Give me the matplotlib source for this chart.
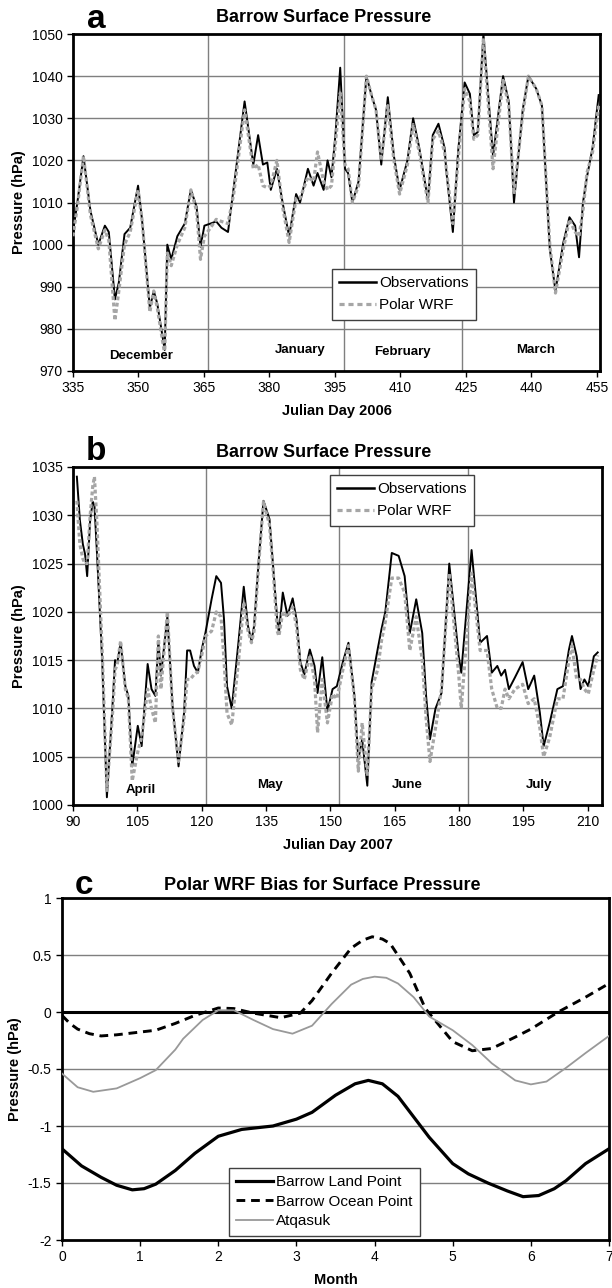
import numpy as np
import matplotlib
matplotlib.use("Agg")
import matplotlib.pyplot as plt
from matplotlib.lines import Line2D

plt.rcParams['font.family'] = ['Liberation Sans', 'DejaVu Sans']

# ---- panel a: Barrow surface pressure, Dec 2005 - Mar 2006
days_a = [335, 336, 337.4, 339, 340.8, 342.3, 343.2, 344.6, 345.5, 346.8, 348.1, 349.9, 350.8,
          352.6, 353.5, 354.3, 356, 356.6, 357.5, 358.9, 360.6, 362, 363.3, 364.2, 365.1, 366.5,
          367.8, 369, 370.5, 371.8, 374.3, 376.3, 377.4, 378.5, 379.5, 380.3, 381.7, 383, 384.5,
          386.1, 387, 388.8, 390.1, 391, 392.4, 393.3, 394.2, 395.1, 396.2, 397.3, 398, 399, 400.4,
          402.2, 403.5, 404.4, 405.6, 407.1, 408.5, 409.8, 411.6, 412.9, 414.3, 416.3, 417.4, 418.7,
          420.1, 420.5, 422, 423.2, 424.7, 425.9, 426.8, 427.7, 429, 431.2, 433.5, 434.8, 436, 438,
          439.3, 441.1, 442.4, 444.2, 445.5, 447.3, 448.7, 450, 450.9, 451.8, 452.7, 454, 455.4]
obs_a = [1003, 1010, 1021, 1008, 1000, 1004.5, 1003, 987, 991, 1002.5, 1004, 1014, 1006,
         985, 989, 986, 975, 1000, 996.5, 1002, 1005, 1013, 1009, 999.5, 1004.5, 1005,
         1005.5, 1004, 1003, 1013.5, 1034, 1019, 1026, 1019, 1019.5, 1013, 1018, 1010, 1002,
         1012, 1010, 1018, 1014, 1017, 1013, 1020, 1016, 1026, 1042, 1018, 1017, 1010, 1015,
         1040, 1035, 1032, 1019, 1035, 1021, 1013, 1020, 1030, 1023, 1010.5, 1026, 1028.7,
         1023, 1017.5, 1003, 1022, 1038.5, 1035.8, 1026, 1026.7, 1050, 1021, 1040, 1034, 1010, 1032,
         1040, 1037, 1033, 999, 989, 1000.5, 1006.5, 1004.5, 997, 1010, 1016, 1023, 1035.5]
wrf_a = [1002, 1009, 1021, 1007, 999, 1003.5, 1001, 982, 989, 1000, 1003, 1013, 1006,
         984, 989, 985, 974, 998, 995, 1000, 1004, 1013, 1008, 996.5, 1002, 1004,
         1006, 1005.5, 1005, 1012, 1032, 1018, 1019, 1014, 1013.5, 1014, 1020, 1009, 1000.5,
         1011, 1011, 1016, 1015, 1022, 1015, 1013, 1014, 1024, 1036, 1019, 1018, 1010, 1014,
         1040, 1035, 1032, 1020, 1033, 1020, 1012, 1019, 1028.5, 1022, 1010, 1025, 1027,
         1022, 1018, 1005, 1020, 1037, 1034, 1025, 1026, 1049, 1018, 1039, 1033, 1012, 1031,
         1040, 1037, 1033, 1000, 988.5, 999, 1006, 1003, 1002, 1008, 1017, 1022, 1033]
months_a = ['December', 'January', 'February', 'March']
month_pos_a = [350.5, 387, 410.5, 441]
month_lines_a = [366, 397, 424]

# ---- panel b: Barrow surface pressure, Apr - Jul 2007
days_b = [90.9, 91.6, 92.3, 92.8, 93.3, 94, 94.6, 95, 95.6, 96.8, 97.9, 99.3, 99.8, 100.3, 101.1,
          102.2, 102.9, 103.8, 105.1, 106, 107.4, 108.3, 109.2, 109.9, 110.5, 112, 113.2, 114.6,
          115.9, 116.6, 117.3, 118.2, 119.1, 120, 120.9, 122.3, 123.4, 124.5, 125.2, 125.9, 127,
          128.6, 129.8, 130.8, 131.6, 132.2, 133.3, 134.4, 135.8, 136.7, 137.6, 138, 138.9, 140,
          141.2, 142.1, 143, 143.9, 145.2, 146.3, 147, 148.1, 149.3, 150.5, 151.5, 152.9, 154.2,
          155.6, 156.5, 157.4, 158.6, 159.6, 161, 161.9, 162.8, 164.3, 165.9, 167.3, 168.5, 170,
          171.4, 172.3, 173.2, 174.5, 175.9, 177.7, 179.9, 180.5, 182.9, 184.9, 186.5, 187.6,
          188.9, 189.8, 190.7, 191.6, 193, 194.8, 196.1, 197.5, 198.8, 199.7, 201.1, 202.9, 204.2,
          205.6, 206.3, 207.4, 208.3, 209.2, 210.1, 211.4, 212.3]
obs_b = [1034, 1029.5, 1027, 1026, 1023.7, 1029.5, 1031.4, 1031, 1026, 1015, 1000.8, 1011, 1015,
         1014.7, 1016.8, 1012.3, 1011.3, 1004, 1008.2, 1006.1, 1014.6, 1012, 1011.3, 1017, 1013.4,
         1019.5, 1010.3, 1004, 1009.6, 1016, 1016, 1014.4, 1013.7, 1016.1, 1017.9, 1021.3, 1023.7,
         1023, 1019.2, 1012.3, 1010, 1017, 1022.6, 1018.5, 1017, 1018.5, 1025.4, 1031.5, 1029.6,
         1024.4, 1019.2, 1017.8, 1022, 1019.6, 1021.4, 1019.2, 1014.8, 1013.5, 1016.1, 1014.4,
         1011.6, 1015.3, 1009.7, 1012, 1012.3, 1014.8, 1016.8, 1011.3, 1004.7, 1006.8, 1002,
         1012.7, 1016.1, 1018.2, 1020, 1026.1, 1025.8, 1023.7, 1017.8, 1021.3, 1017.8, 1011.3,
         1006.8, 1010, 1011.6, 1025, 1015.4, 1013.7, 1026.4, 1016.8, 1017.5, 1013.7, 1014.4,
         1013.4, 1014, 1012, 1013.2, 1014.8, 1012, 1013.4, 1009.6, 1006.1, 1008.5, 1012, 1012.3,
         1016.1, 1017.5, 1015.4, 1012, 1013, 1012.3, 1015.4, 1015.8]
wrf_b = [1031.5, 1027, 1025.5, 1025, 1025, 1030, 1033, 1034, 1029, 1016, 1001.5, 1010, 1014,
         1014.5, 1017, 1012, 1011, 1002.5, 1005.5, 1007, 1012, 1010, 1008.5, 1017.5, 1012,
         1020, 1010, 1004.5, 1009, 1013, 1013, 1013.5, 1013.8, 1015.5, 1017.5, 1018, 1020,
         1019.5, 1015, 1009.5, 1008.3, 1015, 1021, 1018, 1016.8, 1018, 1025, 1031.4, 1029,
         1024, 1018, 1017.5, 1020, 1019.5, 1020.5, 1018.5, 1014, 1013, 1015.5, 1013,
         1007.5, 1013, 1008.5, 1011.5, 1011, 1014, 1016.5, 1011, 1003.5, 1008.5, 1003,
         1012, 1014, 1017, 1019, 1023.5, 1023.5, 1022, 1016, 1019.5, 1015, 1009,
         1004.5, 1008, 1012, 1024, 1013.5, 1010, 1024, 1016, 1016, 1012, 1010,
         1010, 1012, 1011, 1012, 1012.5, 1010.5, 1011, 1008, 1005, 1007, 1011, 1011,
         1015, 1016.5, 1013, 1013, 1012, 1011.5, 1014, 1015.5]
months_b = ['April', 'May', 'June', 'July']
month_pos_b = [105.9, 136, 167.9, 198.7]
month_y_b = [1001.6, 1002.1, 1002.1, 1002.1]
month_lines_b = [121, 152, 182]

# ---- panel c: Polar WRF bias
land_m = [0, 0.25, 0.5, 0.7, 0.9, 1.05, 1.2, 1.45, 1.7, 2.0, 2.3, 2.7, 3.0, 3.2, 3.5, 3.75,
          3.92, 4.1, 4.3, 4.5, 4.7, 5.0, 5.2, 5.45, 5.7, 5.9, 6.1, 6.3, 6.45, 6.7, 7.0]
land_v = [-1.2, -1.35, -1.45, -1.52, -1.56, -1.55, -1.51, -1.39, -1.24, -1.09, -1.03, -1.0,
          -0.94, -0.88, -0.73, -0.63, -0.60, -0.63, -0.74, -0.92, -1.1, -1.33, -1.42, -1.5,
          -1.57, -1.62, -1.61, -1.55, -1.48, -1.33, -1.2]
ocean_m = [0, 0.1, 0.2, 0.35, 0.5, 0.7, 1.2, 1.45, 1.7, 2.0, 2.2, 2.45, 2.8, 3.05, 3.2, 3.45,
           3.7, 3.85, 3.97, 4.1, 4.2, 4.45, 4.65, 5.0, 5.25, 5.5, 5.8, 6.0, 6.35, 6.7, 7.0]
ocean_v = [-0.03, -0.1, -0.15, -0.19, -0.21, -0.2, -0.16, -0.1, -0.03, 0.035, 0.03, -0.01,
           -0.05, -0.01, 0.1, 0.34, 0.56, 0.63, 0.66, 0.64, 0.6, 0.34, 0.03, -0.26, -0.34,
           -0.32, -0.22, -0.15, 0.0, 0.13, 0.25]
atq_m = [0, 0.2, 0.4, 0.7, 1.0, 1.2, 1.45, 1.55, 1.8, 2.0, 2.2, 2.45, 2.7, 2.95, 3.2, 3.45,
         3.7, 3.85, 4.0, 4.15, 4.3, 4.5, 4.7, 5.0, 5.25, 5.5, 5.8, 6.0, 6.2, 6.45, 6.7, 7.0]
atq_v = [-0.54, -0.66, -0.70, -0.67, -0.58, -0.51, -0.33, -0.235, -0.07, 0.015, 0.015, -0.07,
         -0.15, -0.19, -0.12, 0.07, 0.24, 0.29, 0.31, 0.3, 0.25, 0.13, -0.04, -0.16, -0.29,
         -0.45, -0.6, -0.635, -0.61, -0.49, -0.36, -0.21]

W, H = 612, 1288
fig = plt.figure(figsize=(W / 100, H / 100), dpi=100)


def box(l, t, r, b):
    return [l / W, 1 - b / H, (r - l) / W, (b - t) / H]


gridc = '#7f7f7f'
wrfc = '#a6a6a6'


def style(ax):
    for s in ax.spines.values():
        s.set_linewidth(2)
    ax.tick_params(labelsize=10, length=4, width=1, direction='out')
    ax.grid(False)


def pressure_panel(ax, days, obs, wrf, mlines, months, mpos, my, xlim, ylim, yticks, xlabel):
    for v in yticks[1:-1]:
        ax.axhline(v, color=gridc, lw=1, zorder=1)
    for v in mlines:
        ax.axvline(v, color=gridc, lw=1, zorder=1)
    ax.plot(days, obs, color='black', lw=1.4, zorder=3)
    ax.plot(days, wrf, color=wrfc, lw=2.3, ls=(0, (1.2, 0.8)), zorder=4)
    for name, x, y in zip(months, mpos, my):
        ax.text(x, y, name, ha='center', va='center', fontsize=9.5, fontweight='bold', zorder=5)
    ax.set_xlim(*xlim)
    ax.set_ylim(*ylim)
    ax.set_xticks(np.arange(xlim[0], xlim[1] + 1, 15))
    ax.set_yticks(yticks)
    ax.set_xlabel(xlabel, fontsize=10.5, fontweight='bold', labelpad=6)
    ax.set_ylabel('Pressure (hPa)', fontsize=10.5, fontweight='bold', labelpad=4)
    style(ax)


leg_handles = [Line2D([], [], color='black', lw=1.8),
               Line2D([], [], color=wrfc, lw=2.3, ls=(0, (1.6, 1.2)))]
leg_kw = dict(loc='upper left', fontsize=11, frameon=True, fancybox=False,
              edgecolor='#404040', framealpha=1, handlelength=2.4, handletextpad=0.2,
              borderpad=0.5)

# panel a
ax1 = fig.add_axes(box(73, 34, 600, 371))
pressure_panel(ax1, days_a, obs_a, wrf_a, month_lines_a, months_a, month_pos_a,
               [973.5, 975, 974.5, 975], (335, 455.7), (970, 1050),
               np.arange(970, 1051, 10), 'Julian Day 2006')
fig.legend(leg_handles, ['Observations', 'Polar WRF'],
           bbox_to_anchor=(324 / W, 1 - 261 / H), labelspacing=0.5, **leg_kw)

# panel b
ax2 = fig.add_axes(box(73, 467, 602, 805))
pressure_panel(ax2, days_b, obs_b, wrf_b, month_lines_b, months_b, month_pos_b, month_y_b,
               (90, 213.3), (1000, 1035), np.arange(1000, 1036, 5), 'Julian Day 2007')
fig.legend(leg_handles, ['Observations', 'Polar WRF'],
           bbox_to_anchor=(322 / W, 1 - 467 / H), labelspacing=0.5, **leg_kw)

# panel c
ax3 = fig.add_axes(box(62, 898, 609, 1240))
for v in [-1.5, -1, -0.5, 0.5]:
    ax3.axhline(v, color=gridc, lw=1, zorder=1)
ax3.axhline(0, color='black', lw=2.2, zorder=2)
l1, = ax3.plot(land_m, land_v, color='black', lw=2.3, zorder=3)
l2, = ax3.plot(ocean_m, ocean_v, color='black', lw=2.1, ls=(0, (3, 2)), zorder=3)
l3, = ax3.plot(atq_m, atq_v, color='#999999', lw=1.3, zorder=3)
ax3.set_xlim(0, 7)
ax3.set_ylim(-2, 1)
ax3.set_xticks(range(8))
ax3.set_yticks([-2, -1.5, -1, -0.5, 0, 0.5, 1])
ax3.set_yticklabels(['-2', '-1.5', '-1', '-0.5', '0', '0.5', '1'])
ax3.set_xlabel('Month', fontsize=10.5, fontweight='bold', labelpad=6)
ax3.set_ylabel('Pressure (hPa)', fontsize=10.5, fontweight='bold', labelpad=4)
style(ax3)
fig.legend([l1, l2, l3], ['Barrow Land Point', 'Barrow Ocean Point', 'Atqasuk'],
           bbox_to_anchor=(221 / W, 1 - 1160 / H), labelspacing=0.35, **leg_kw)

# titles and panel letters
fig.text(324 / W, 1 - 18 / H, 'Barrow Surface Pressure', ha='center', va='center',
         fontsize=13, fontweight='bold')
fig.text(324 / W, 1 - 453 / H, 'Barrow Surface Pressure', ha='center', va='center',
         fontsize=13, fontweight='bold')
fig.text(322 / W, 1 - 886 / H, 'Polar WRF Bias for Surface Pressure', ha='center',
         va='center', fontsize=13, fontweight='bold')
fig.text(96 / W, 1 - 20 / H, 'a', ha='center', va='center', fontsize=24, fontweight='bold')
fig.text(96 / W, 1 - 452 / H, 'b', ha='center', va='center', fontsize=24, fontweight='bold')
fig.text(84 / W, 1 - 885 / H, 'c', ha='center', va='center', fontsize=24, fontweight='bold')

fig.savefig('out.png', dpi=100)
